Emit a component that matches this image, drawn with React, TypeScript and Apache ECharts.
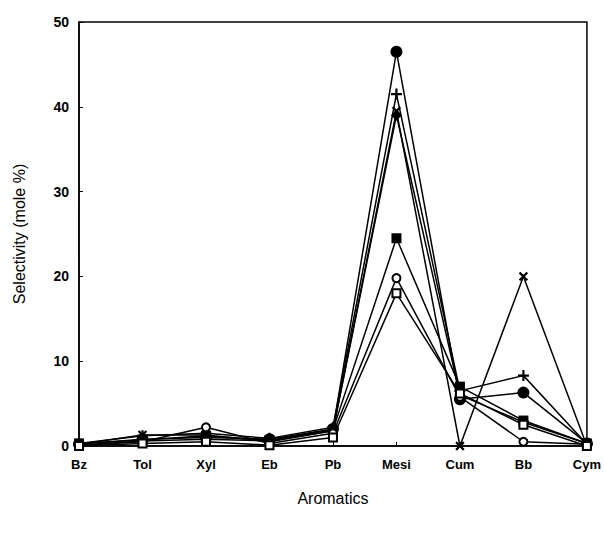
import React, { useEffect, useRef } from "react";
import * as echarts from "echarts";

const categories = ["Bz", "Tol", "Xyl", "Eb", "Pb", "Mesi", "Cum", "Bb", "Cym"];
const yTicks = [0, 10, 20, 30, 40, 50];

const filledCircle = [0.2, 0.8, 1.0, 0.8, 2.0, 46.5, 5.5, 6.3, 0.3];
const plusSeries = [0.3, 1.2, 1.5, 0.9, 2.2, 41.5, 6.5, 8.3, 0.2];
const crossSeries = [0.2, 1.3, 1.3, 0.5, 1.8, 39.5, 0, 20, 0];
const diamondSeries = [0.1, 0.6, 0.8, 0.6, 1.8, 39, 6.0, 2.8, 0.3];
const squareSeries = [0.3, 0.7, 1.2, 0.7, 1.9, 24.5, 7.0, 3.0, 0.3];
const openCircle = [0.1, 0.5, 2.2, 0.3, 1.5, 19.8, 5.8, 0.5, 0.2];
const openSquare = [0.0, 0.3, 0.5, 0.1, 1.0, 18.0, 6.2, 2.5, 0.0];

const PLUS = "path://M4,0h2v4h4v2h-4v4h-2v-4h-4v-2h4z";

export default function App() {
  const ref = useRef<HTMLDivElement>(null);
  useEffect(() => {
    document.body.style.margin = "0";
    const chart = echarts.init(ref.current!, null, { renderer: "svg" });
    const mk = (name: string, data: number[], symbol: string, size: number, rotate = 0, filled = true) => ({
      name,
      type: "line",
      data,
      symbol,
      symbolSize: size,
      symbolRotate: rotate,
      showSymbol: true,
      lineStyle: { color: "#000", width: 1.5 },
      itemStyle: { color: filled ? "#000" : "#000", borderColor: "#000", borderWidth: filled ? 0 : 2 },
      z: filled ? 3 : 4,
    });
    chart.setOption({
      animation: false,
      backgroundColor: "#fff",
      grid: {
        left: 79,
        right: 12,
        top: 22,
        bottom: 91,
        show: true,
        borderColor: "#000",
        borderWidth: 1.5,
      },
      xAxis: {
        type: "category",
        data: categories,
        boundaryGap: false,
        name: "Aromatics",
        nameLocation: "middle",
        nameGap: 44,
        nameTextStyle: { fontFamily: "Liberation Sans", fontSize: 16, color: "#000" },
        axisLine: { lineStyle: { color: "#000", width: 1.5 } },
        axisTick: { inside: true, length: 4, lineStyle: { color: "#000" } },
        axisLabel: {
          fontFamily: "Liberation Sans",
          fontWeight: "bold",
          fontSize: 13,
          color: "#000",
          margin: 12,
        },
        splitLine: { show: false },
      },
      yAxis: {
        type: "value",
        min: yTicks[0],
        max: yTicks[yTicks.length - 1],
        interval: 10,
        name: "Selectivity (mole %)",
        nameLocation: "middle",
        nameGap: 52,
        nameTextStyle: { fontFamily: "Liberation Sans", fontSize: 16, color: "#000" },
        axisLine: { show: true, lineStyle: { color: "#000", width: 1.5 } },
        axisTick: { show: true, inside: true, length: 4, lineStyle: { color: "#000" } },
        axisLabel: {
          fontFamily: "Liberation Sans",
          fontWeight: "bold",
          fontSize: 14,
          color: "#000",
          margin: 10,
        },
        splitLine: { show: false },
      },
      series: [
        mk("A", filledCircle, "circle", 12),
        mk("B", plusSeries, PLUS, 11),
        mk("C", crossSeries, PLUS, 11, 45),
        mk("D", diamondSeries, "diamond", 11),
        mk("E", squareSeries, "rect", 10),
        mk("F", openCircle, "emptyCircle", 8, 0, false),
        mk("G", openSquare, "emptyRect", 8, 0, false),
      ],
    });
    return () => chart.dispose();
  }, []);
  return <div ref={ref} style={{ width: 604, height: 537, position: "absolute", left: 0, top: 0 }} />;
}
